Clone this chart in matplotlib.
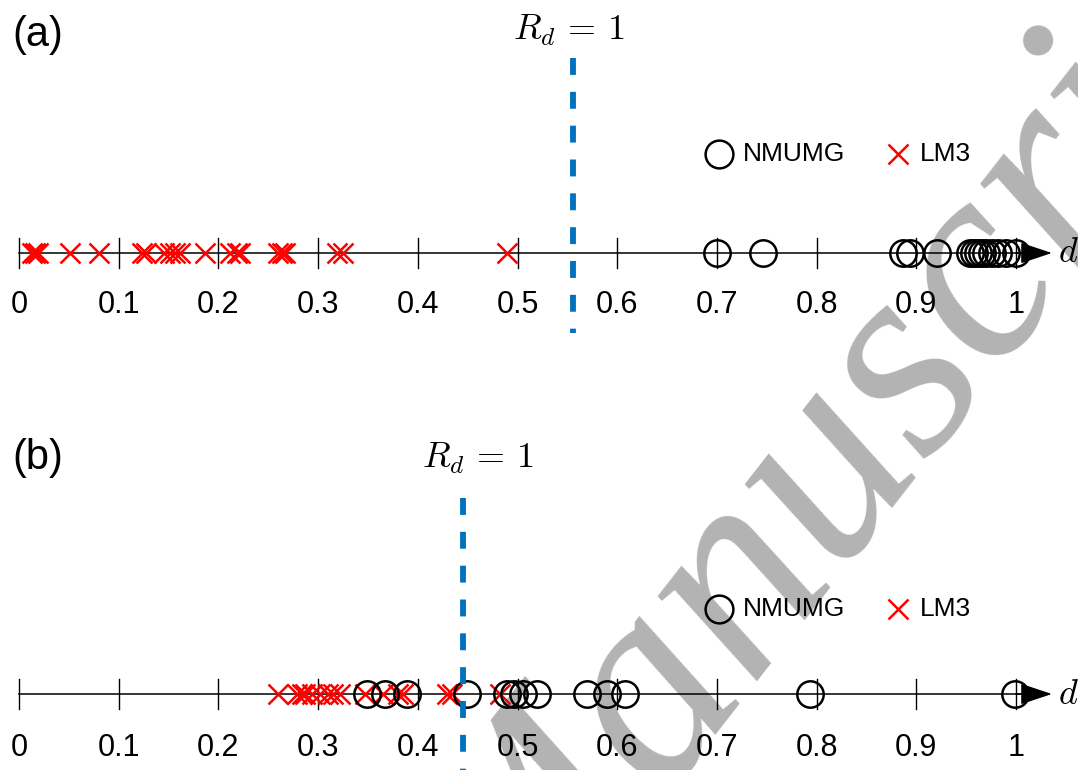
import numpy as np
import matplotlib
matplotlib.use('Agg')
from matplotlib import pyplot as plt

plt.rcParams['font.family'] = ['Liberation Sans', 'DejaVu Sans']
plt.rcParams['mathtext.fontset'] = 'cm'

# panel (a)
nmumg_a = [0.700, 0.746, 0.887, 0.894, 0.921, 0.954, 0.958, 0.962, 0.966,
           0.970, 0.976, 0.982, 0.990, 1.000]
lm3_a = [0.013, 0.016, 0.019, 0.051, 0.080, 0.123, 0.127, 0.145, 0.151, 0.156,
         0.161, 0.187, 0.212, 0.219, 0.222, 0.260, 0.264, 0.267, 0.319, 0.325,
         0.489]
thr_a = 0.556

# panel (b)
nmumg_b = [0.349, 0.367, 0.389, 0.449, 0.489, 0.496, 0.506, 0.520, 0.570,
           0.590, 0.608, 0.793, 0.999]
lm3_b = [0.260, 0.279, 0.284, 0.287, 0.294, 0.302, 0.310, 0.315, 0.322, 0.347,
         0.365, 0.380, 0.385, 0.429, 0.434, 0.482]
thr_b = 0.445

ticks = np.round(np.arange(0, 1.01, 0.1), 1)
tick_labels = ['0'] + ['%.1f' % t for t in ticks[1:-1]] + ['1']

W, H = 1078, 770
fig = plt.figure(figsize=(W / 100, H / 100), dpi=100)

# x: d=0 at 19px, d=1 at 1016px ; y in pixels, baseline at y=0
x0, sc = 19, 997
xlim = (-x0 / sc, (W - x0) / sc)


def panel(rect, ylim, nm, lm, thr, lab, leg_y, lab_y, dash_top, dash_bot,
          rd_dx, rd_y, tl_y):
    ax = fig.add_axes(rect)
    ax.set_xlim(*xlim)
    ax.set_ylim(*ylim)
    ax.axis('off')
    ax.plot([0, 1.02], [0, 0], color='k', lw=1.1, zorder=2)
    ax.annotate('', xy=(1.036, 0), xytext=(1.0, 0),
                arrowprops=dict(arrowstyle='-|>,head_length=0.9,head_width=0.3',
                                color='k', lw=1.1, mutation_scale=22,
                                shrinkA=0, shrinkB=0))
    ax.text(1.042, 0, '$d$', fontsize=26, va='center', ha='left')
    for t, tl in zip(ticks, tick_labels):
        ax.plot([t, t], [-15, 15], color='k', lw=1.0, zorder=2)
        ax.text(t, tl_y, tl, fontsize=22, ha='center', va='center')
    ax.plot(lm, np.zeros(len(lm)), 'x', color='red', ms=15, mew=1.8, zorder=3)
    ax.plot(nm, np.zeros(len(nm)), 'o', mfc='none', mec='k', ms=19, mew=1.8,
            zorder=4)
    ax.plot([thr, thr], [dash_top, dash_bot], '--', color='#0072BD', lw=4.2,
            dashes=(2.9, 2.9), zorder=5)
    ax.text(thr + rd_dx, rd_y, r'$R_d\,=\,1$', fontsize=26,
            ha='center', va='center')
    ax.text(-0.007, lab_y, lab, fontsize=30, ha='left', va='center')
    # legend
    ax.plot([0.702], [leg_y], 'o', mfc='none', mec='k', ms=20, mew=1.8)
    ax.text(0.726, leg_y, 'NMUMG', fontsize=19, ha='left', va='center')
    ax.plot([0.882], [leg_y], 'x', color='red', ms=15, mew=1.8)
    ax.text(0.904, leg_y, 'LM3', fontsize=19, ha='left', va='center')
    return ax


ax_a = panel([0, 0.5, 1, 0.5], (-132, 253), nmumg_a, lm3_a, thr_a, '(a)',
             99, 218, 195, -80, -0.005, 223, -52)
ax_b = panel([0, 0, 1, 0.5], (-76, 309), nmumg_b, lm3_b, thr_b, '(b)',
             85, 236, 196, -80, 0.015, 236, -54)

# watermark
fig.text(0.807, 0.44, 'Manuscript', fontsize=205, color='#b3b3b3',
         family='Liberation Serif', style='italic', rotation=52,
         rotation_mode='anchor', ha='center', va='center', zorder=-1)

fig.savefig('out.png', dpi=100)
